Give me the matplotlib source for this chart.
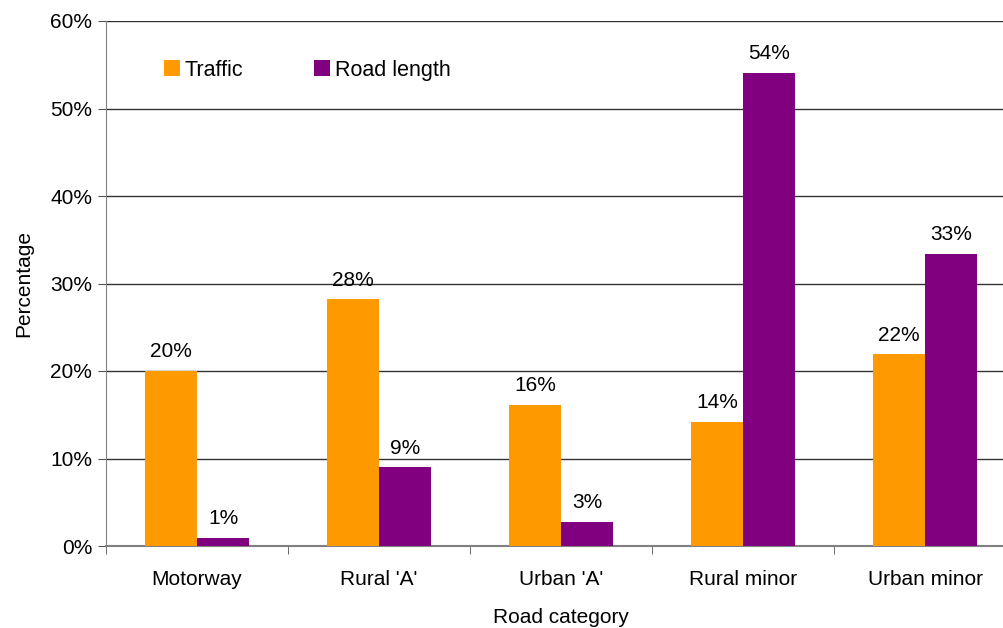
import matplotlib
matplotlib.use("Agg")
import matplotlib.pyplot as plt
import numpy as np

categories = ["Motorway", "Rural 'A'", "Urban 'A'", "Rural minor", "Urban minor"]
traffic = [20.0, 28.2, 16.1, 14.2, 21.9]
road_length = [0.9, 9.0, 2.8, 54.1, 33.4]
yticks = [0, 10, 20, 30, 40, 50, 60]

plt.rcParams['font.family'] = ['Liberation Sans', 'DejaVu Sans']
FS = 15

W, H = 1004, 628
fig = plt.figure(figsize=(W / 100, H / 100), dpi=100)
ax = fig.add_axes([106 / W, 1 - 546 / H, 910 / W, (546 - 21) / H])

x = np.arange(len(categories))
bw = 0.286
b1 = ax.bar(x - bw / 2, traffic, bw, color="#FF9900", label="Traffic", zorder=3)
b2 = ax.bar(x + bw / 2, road_length, bw, color="#800080", label="Road length", zorder=3)

for bars, vals in ((b1, traffic), (b2, road_length)):
    for r, v in zip(bars, vals):
        ax.annotate(f"{v:.0f}%", (r.get_x() + r.get_width() / 2, v),
                    xytext=(0, 7), textcoords="offset points",
                    ha="center", va="bottom", fontsize=FS, color="black")

ax.set_xlim(-0.5, len(categories) - 0.5)
ax.set_ylim(0, 60)
ax.set_yticks(yticks)
ax.set_yticklabels([f"{t}%" for t in yticks], fontsize=FS)
ax.yaxis.grid(True, color="#333333", linewidth=1, zorder=0)
ax.set_axisbelow(True)

ax.set_xticks(x)
ax.set_xticklabels(categories, fontsize=FS)
ax.set_xticks(np.arange(len(categories) + 1) - 0.5, minor=True)
ax.tick_params(axis="x", which="major", length=0, pad=17)
ax.tick_params(axis="x", which="minor", length=6, direction="out", color="#555555")
ax.tick_params(axis="y", length=6, direction="out", color="#555555", pad=4)

for s in ("top", "right"):
    ax.spines[s].set_visible(False)
ax.spines["left"].set_color("#808080")
ax.spines["bottom"].set_color("#808080")
ax.spines["bottom"].set_linewidth(1.5)

ax.set_ylabel("Percentage", fontsize=FS, labelpad=12)
ax.set_xlabel("Road category", fontsize=FS, labelpad=14)

ax.legend(loc="upper left", bbox_to_anchor=(0.0515, 0.947), ncol=2, frameon=False,
          fontsize=15.5, handlelength=0.75, handleheight=0.8, columnspacing=3.3,
          handletextpad=0.22, borderpad=0.0)

fig.savefig("out.png", dpi=100)
